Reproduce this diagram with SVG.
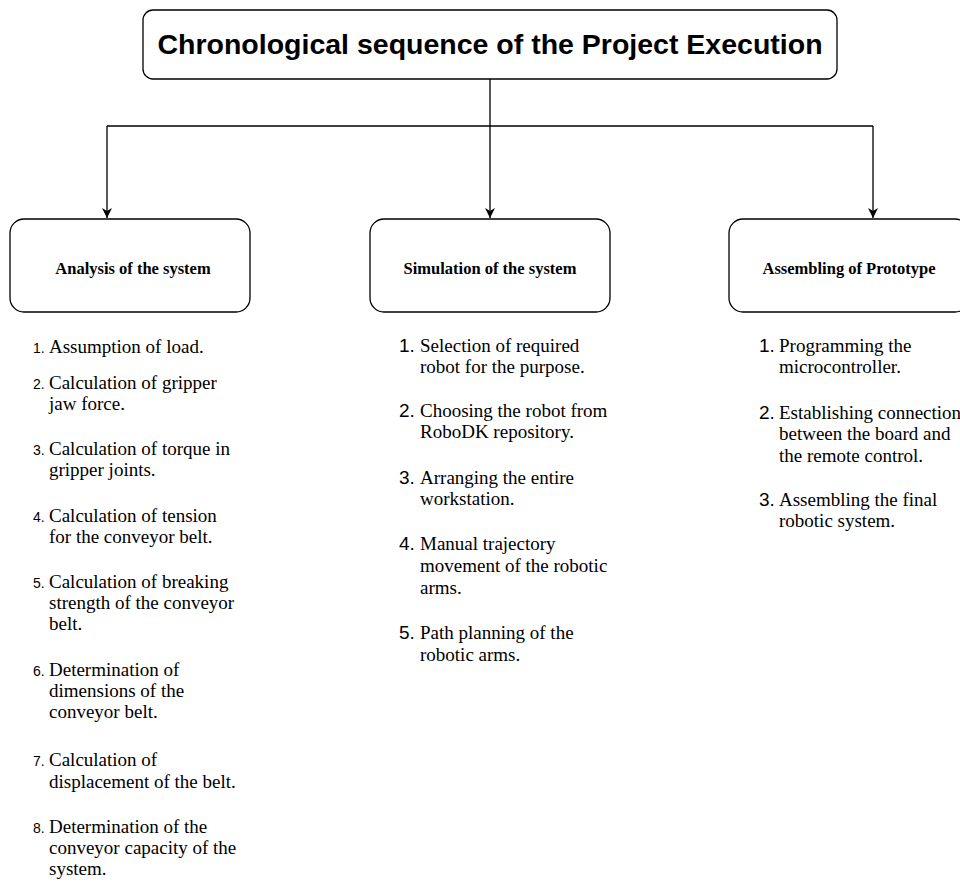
<svg xmlns="http://www.w3.org/2000/svg" width="960" height="882" viewBox="0 0 960 882">
<defs>
<style>
.box{fill:#fff;stroke:#000;stroke-width:1.3}
.title{font-family:"Liberation Sans",Arial,sans-serif;font-weight:bold;font-size:28.5px;fill:#000}
.lbl{font-family:"Liberation Serif","Times New Roman",serif;font-weight:bold;font-size:16.5px;fill:#000}
.item{font-family:"Liberation Serif","Times New Roman",serif;font-size:19px;fill:#000}
.numS{font-family:"Liberation Sans",Arial,sans-serif;font-size:14px;fill:#000}
.numL{font-family:"Liberation Sans",Arial,sans-serif;font-size:19px;fill:#000}
.conn{fill:none;stroke:#000;stroke-width:1.3}
</style>
<marker id="arr" viewBox="0 0 10 10" refX="10" refY="5" markerWidth="10" markerHeight="10" markerUnits="userSpaceOnUse" orient="auto">
<path d="M0,0 L10,5 L0,10 L3,5 Z" fill="#000"/>
</marker>
</defs>
<rect width="960" height="882" fill="#fff"/>
<g id="connectors">
<path class="conn" d="M490,79 V126"/>
<path class="conn" d="M107,126 H873"/>
<path class="conn" d="M107,126 V218" marker-end="url(#arr)"/>
<path class="conn" d="M490,126 V218" marker-end="url(#arr)"/>
<path class="conn" d="M873,126 V218" marker-end="url(#arr)"/>
</g>
<g id="title">
<rect class="box" x="143" y="10" width="694" height="69" rx="10"/>
<text class="title" x="490" y="54" text-anchor="middle">Chronological sequence of the Project Execution</text>
</g>
<g id="analysis">
<rect class="box" x="10" y="219" width="240" height="93" rx="14"/>
<text class="lbl" x="133" y="274" text-anchor="middle">Analysis of the system</text>
</g>
<g id="simulation">
<rect class="box" x="370" y="219" width="240" height="93" rx="14"/>
<text class="lbl" x="490" y="274" text-anchor="middle">Simulation of the system</text>
</g>
<g id="assembling">
<rect class="box" x="729" y="219" width="240" height="93" rx="14"/>
<text class="lbl" x="849" y="274" text-anchor="middle">Assembling of Prototype</text>
</g>
<g id="analysis-list">
<text class="numS" x="33" y="353">1.</text><text class="item" x="49" y="353">Assumption of load.</text>
<text class="numS" x="33" y="389">2.</text><text class="item" x="49" y="389">Calculation of gripper</text>
<text class="item" x="49" y="410">jaw force.</text>
<text class="numS" x="33" y="455">3.</text><text class="item" x="49" y="455">Calculation of torque in</text>
<text class="item" x="49" y="476">gripper joints.</text>
<text class="numS" x="33" y="522">4.</text><text class="item" x="49" y="522">Calculation of tension</text>
<text class="item" x="49" y="543">for the conveyor belt.</text>
<text class="numS" x="33" y="588">5.</text><text class="item" x="49" y="588">Calculation of breaking</text>
<text class="item" x="49" y="609">strength of the conveyor</text>
<text class="item" x="49" y="630">belt.</text>
<text class="numS" x="33" y="676">6.</text><text class="item" x="49" y="676">Determination of</text>
<text class="item" x="49" y="697">dimensions of the</text>
<text class="item" x="49" y="718">conveyor belt.</text>
<text class="numS" x="33" y="766">7.</text><text class="item" x="49" y="766">Calculation of</text>
<text class="item" x="49" y="788">displacement of the belt.</text>
<text class="numS" x="33" y="833">8.</text><text class="item" x="49" y="833">Determination of the</text>
<text class="item" x="49" y="854">conveyor capacity of the</text>
<text class="item" x="49" y="875">system.</text>
</g>
<g id="simulation-list">
<text class="numL" x="399" y="352">1.</text><text class="item" x="420" y="352">Selection of required</text>
<text class="item" x="420" y="373">robot for the purpose.</text>
<text class="numL" x="399" y="417">2.</text><text class="item" x="420" y="417">Choosing the robot from</text>
<text class="item" x="420" y="438">RoboDK repository.</text>
<text class="numL" x="399" y="484">3.</text><text class="item" x="420" y="484">Arranging the entire</text>
<text class="item" x="420" y="505">workstation.</text>
<text class="numL" x="399" y="550">4.</text><text class="item" x="420" y="550">Manual trajectory</text>
<text class="item" x="420" y="572">movement of the robotic</text>
<text class="item" x="420" y="594">arms.</text>
<text class="numL" x="399" y="639">5.</text><text class="item" x="420" y="639">Path planning of the</text>
<text class="item" x="420" y="661">robotic arms.</text>
</g>
<g id="assembling-list">
<text class="numL" x="759" y="352">1.</text><text class="item" x="779" y="352">Programming the</text>
<text class="item" x="779" y="373">microcontroller.</text>
<text class="numL" x="759" y="419">2.</text><text class="item" x="779" y="419">Establishing connection</text>
<text class="item" x="779" y="440">between the board and</text>
<text class="item" x="779" y="462">the remote control.</text>
<text class="numL" x="759" y="506">3.</text><text class="item" x="779" y="506">Assembling the final</text>
<text class="item" x="779" y="527">robotic system.</text>
</g>
</svg>
